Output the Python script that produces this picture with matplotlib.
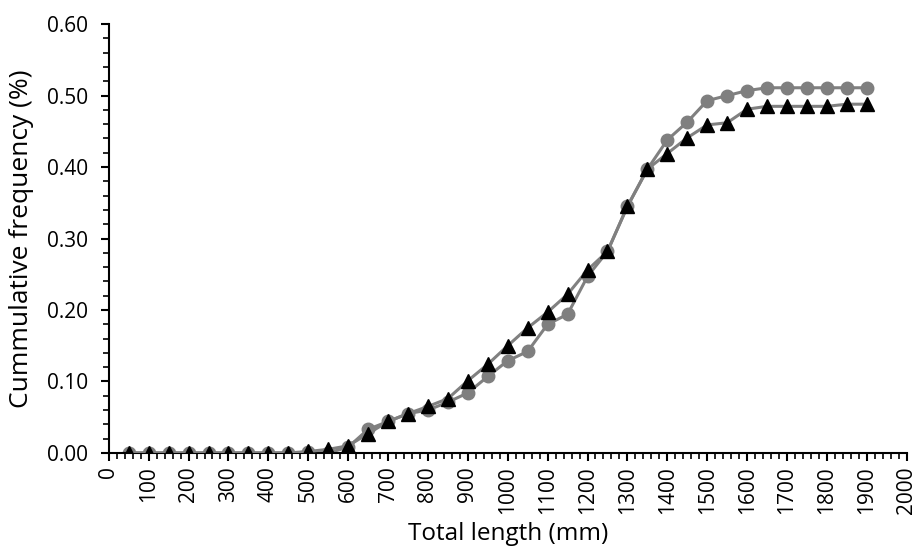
import matplotlib.pyplot as plt
from matplotlib.ticker import MultipleLocator

plt.rcParams['font.family'] = ['Open Sans', 'DejaVu Sans']

# total length classes (mm)
lengths = list(range(50, 1950, 50))

# grey circles
freq_a = [0, 0, 0, 0, 0, 0, 0, 0, 0, 0.001, 0.0, 0.008,
          0.033, 0.044, 0.055, 0.060, 0.071, 0.084, 0.107, 0.129, 0.142, 0.180,
          0.194, 0.247, 0.282, 0.345, 0.397, 0.438, 0.463, 0.493, 0.500, 0.507,
          0.511, 0.511, 0.511, 0.511, 0.511, 0.511]

# black triangles
freq_b = [0, 0, 0, 0, 0, 0, 0, 0, 0, 0.002, 0.005, 0.010,
          0.027, 0.044, 0.055, 0.065, 0.076, 0.101, 0.124, 0.150, 0.175, 0.197,
          0.222, 0.256, 0.282, 0.345, 0.397, 0.419, 0.441, 0.459, 0.462, 0.481,
          0.485, 0.485, 0.485, 0.485, 0.488, 0.488]

fig = plt.figure(figsize=(9.14, 5.49), dpi=100)
ax = fig.add_axes([0.119, 0.175, 0.873, 0.781])

ax.plot(lengths, freq_a, color='#808080', lw=2.2, marker='o', ms=9,
        mfc='#7f7f7f', mec='#7f7f7f', zorder=2)
ax.plot(lengths, freq_b, color='#808080', lw=2.2, marker='^', ms=10,
        mfc='black', mec='black', zorder=3)

ax.set_xlim(0, 2000)
ax.set_ylim(0, 0.6)
ax.xaxis.set_major_locator(MultipleLocator(100))
ax.xaxis.set_minor_locator(MultipleLocator(20))
ax.yaxis.set_major_locator(MultipleLocator(0.1))
ax.yaxis.set_minor_locator(MultipleLocator(0.02))
ax.set_yticklabels([f'{v:.2f}' for v in ax.get_yticks()])
plt.setp(ax.get_xticklabels(), rotation=90)

ax.tick_params(which='major', direction='out', length=6, width=1.5, labelsize=15)
ax.tick_params(which='minor', direction='out', length=4, width=1.2)
ax.tick_params(axis='y', which='major', pad=9)
for s in ['top', 'right']:
    ax.spines[s].set_visible(False)
for s in ['left', 'bottom']:
    ax.spines[s].set_linewidth(1.5)

ax.set_xlabel('Total length (mm)', fontsize=17.5)
ax.set_ylabel('Cummulative frequency (%)', fontsize=19)
ax.xaxis.set_label_coords(0.5, -0.162)
ax.yaxis.set_label_coords(-0.094, 0.5)

fig.savefig('out.png', dpi=100)
